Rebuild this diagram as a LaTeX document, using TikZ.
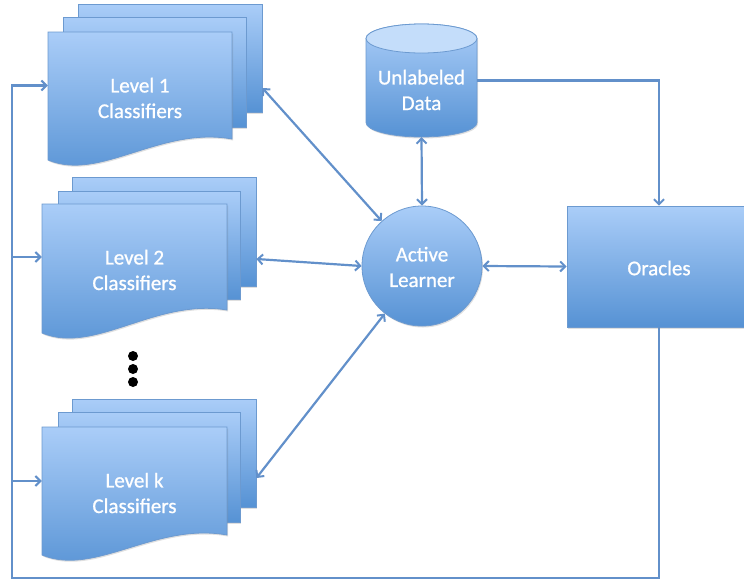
\documentclass[tikz,border=0pt]{standalone}
\usepackage{fontspec}
\setmainfont{Carlito}
\newfontfamily\lblfont{Carlito}[FakeBold=0.9]
\usetikzlibrary{arrows.meta,shadows}
\definecolor{lightb}{RGB}{170,205,248}
\definecolor{darkb}{RGB}{86,146,212}
\definecolor{topb}{RGB}{196,221,250}
\definecolor{edgeb}{RGB}{108,154,208}
\definecolor{lineb}{RGB}{98,144,202}
\begin{document}
\begin{tikzpicture}[x=1pt,y=-1pt,
  bluefill/.style={top color=lightb,bottom color=darkb,draw=edgeb,line width=0.8pt,
    drop shadow={opacity=0.25,shadow xshift=1pt,shadow yshift=-1.5pt}},
  layer/.style={bluefill,rectangle,inner sep=0pt},
  ghost/.style={rectangle,inner sep=0pt},
  lbl/.style={text=white,font=\lblfont\fontsize{21}{25.6}\selectfont,align=center,inner sep=0pt},
  tip/.tip={Straight Barb[length=5pt,width=10pt,line width=2pt]},
  conn/.style={draw=lineb,line width=2.2pt,tip-tip},
  flow/.style={draw=lineb,line width=2.2pt,-tip},
  dot/.style={circle,fill=black,inner sep=0pt,minimum size=10pt}
]
\useasboundingbox (0,0) rectangle (744,582);
\clip (0,0) rectangle (744,582);

% ---------- Level 1 ----------
\node[layer,minimum width=184pt,minimum height=108pt] (l1c) at (170,58) {};
\node[layer,minimum width=183pt,minimum height=110pt] (l1b) at (154.5,72) {};
\path[bluefill] (48,32) -- (232,32) -- (232,139) .. controls (160,126) and (100,182) .. (48,160) -- cycle;
\node[ghost,minimum width=184pt,minimum height=107pt] (l1f) at (140,85.5) {};
\node[lbl] (l1t) at (140,98) {Level 1\\Classifiers};

% ---------- Level 2 ----------
\node[layer,minimum width=184pt,minimum height=109pt] (l2c) at (164,231.5) {};
\node[layer,minimum width=182pt,minimum height=108pt] (l2b) at (149,245) {};
\path[bluefill] (42,204) -- (227,204) -- (227,310) .. controls (155,298) and (95,355) .. (42,333) -- cycle;
\node[ghost,minimum width=185pt,minimum height=106pt] (l2f) at (134.5,257) {};
\node[lbl] (l2t) at (134.5,270) {Level 2\\Classifiers};

% ---------- dots ----------
\node[dot] (d1) at (133,356) {};
\node[dot] (d2) at (133,369) {};
\node[dot] (d3) at (133,382) {};

% ---------- Level k ----------
\node[layer,minimum width=184pt,minimum height=108pt] (lkc) at (164,453) {};
\node[layer,minimum width=182pt,minimum height=110pt] (lkb) at (149,467) {};
\path[bluefill] (42,427) -- (227,427) -- (227,535) .. controls (155,522) and (95,577) .. (42,555) -- cycle;
\node[ghost,minimum width=185pt,minimum height=108pt] (lkf) at (134.5,481) {};
\node[lbl] (lkt) at (134.5,493) {Level k\\Classifiers};

% ---------- Unlabeled data (cylinder) ----------
\path[bluefill] (366,38.5) -- (366,122.5) arc (180:0:55.5 and 14.5) -- (477,38.5) arc (0:-180:55.5 and 14.5) -- cycle;
\path[fill=topb,draw=edgeb,line width=0.8pt] (421.5,38.5) ellipse (55.5 and 14.5);
\node[ghost,minimum width=111pt,minimum height=113pt] (ud) at (421.5,80.5) {};
\node[lbl] (udt) at (421.5,90) {Unlabeled\\Data};

% ---------- Active learner ----------
\node[bluefill,circle,minimum size=120pt,inner sep=0pt] (al) at (422,266) {};
\node[lbl] (alt) at (422,267) {Active\\Learner};

% ---------- Oracles ----------
\node[layer,minimum width=184pt,minimum height=121pt] (or) at (659,266.5) {};
\node[lbl] (ort) at (659,268) {Oracles};

% ---------- connectors ----------
\draw[conn] ([yshift=-30pt]l1c.east) -- (al);
\draw[conn] ([yshift=-27.5pt]l2c.east) -- (al.west);
\draw[conn] ([yshift=-25pt]lkc.east) -- (al);
\draw[conn] (ud.south) -- (al.north);
\draw[conn] (al.east) -- (or.west);
\draw[flow] (ud.east) -| (or.north);

\coordinate (fb) at (12,578);
\draw[flow] (or.south) |- (fb) |- (l1f.west);
\draw[flow] (fb |- l2f.west) -- (l2f.west);
\draw[flow] (fb |- lkf.west) -- (lkf.west);
\end{tikzpicture}
\end{document}
